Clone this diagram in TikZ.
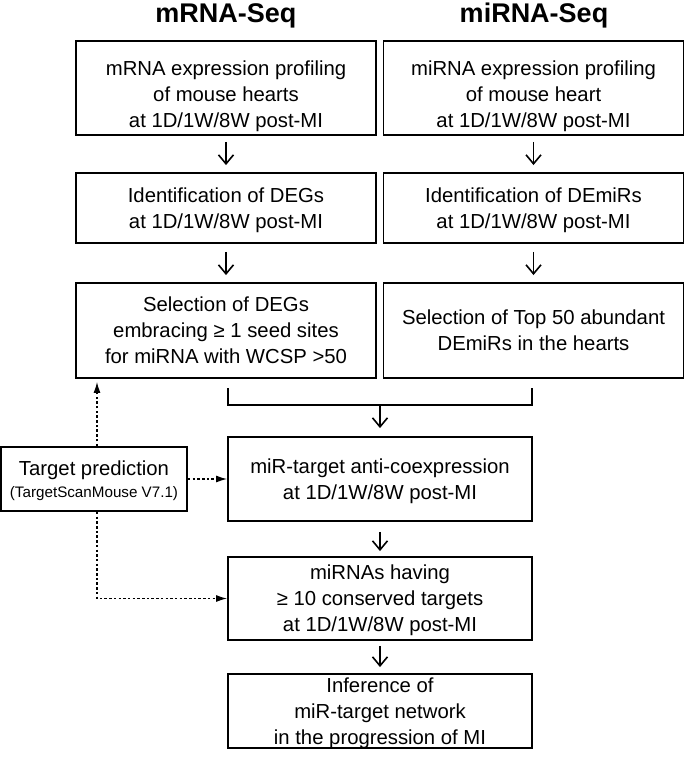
\documentclass[tikz,border=0pt]{standalone}
\usepackage{fontspec}
\setmainfont{Liberation Sans}
\usetikzlibrary{arrows.meta}

\newlength{\du}
\setlength{\du}{1pt}

\tikzset{
  flowbox/.style={draw, line width=1.9\du, inner sep=0pt, align=center, text depth=0pt,
    font=\fontsize{20.3}{26}\selectfont},
  colbox/.style={flowbox, minimum width=300\du},
  midbox/.style={flowbox, minimum width=304\du},
  seqhead/.style={anchor=base, inner sep=0pt, font=\fontsize{27}{32}\selectfont\bfseries},
  flowarrow/.style={line width=1.6\du, -{Straight Barb[length=9pt,width=15pt]}},
  predarrow/.style={line width=1.2\du, dash pattern=on 2.5\du off 2.2\du,
    -{Latex[length=11pt,width=7pt]}},
  bracketline/.style={line width=1.6\du},
}

\begin{document}
\begin{tikzpicture}[x=1\du, y=-1\du]
\useasboundingbox (0,0) rectangle (685,758);
% headers
\node[seqhead] (mrnahead) at (226,22) {mRNA-Seq};
\node[seqhead] (mirnahead) at (534,22) {miRNA-Seq};
% left column
\node[colbox, minimum height=94\du] (mrnaprof) at (226,88) {\rule{0pt}{27pt}mRNA expression profiling\\of mouse hearts\\at 1D/1W/8W post-MI};
\node[colbox, minimum height=70\du] (degid) at (226,208) {Identification of DEGs\\at 1D/1W/8W post-MI};
\node[colbox, minimum height=95\du] (degsel) at (226,330.5) {Selection of DEGs\\embracing ≥ 1 seed sites\\for miRNA with WCSP >50};
% right column
\node[colbox, minimum height=94\du] (mirnaprof) at (533.5,88) {\rule{0pt}{27pt}miRNA expression profiling\\of mouse heart\\at 1D/1W/8W post-MI};
\node[colbox, minimum height=70\du] (demirid) at (533.5,208) {Identification of DEmiRs\\at 1D/1W/8W post-MI};
\node[colbox, minimum height=95\du] (demirsel) at (533.5,330.5) {Selection of Top 50 abundant\\DEmiRs in the hearts};
% middle column
\node[midbox, minimum height=84\du] (anticoexp) at (380,479) {miR-target anti-coexpression\\at 1D/1W/8W post-MI};
\node[midbox, minimum height=83\du] (conserved) at (380,598.5) {miRNAs having\\≥ 10 conserved targets\\at 1D/1W/8W post-MI};
\node[midbox, minimum height=74\du] (network) at (380,711) {Inference of\\miR-target network\\in the progression of MI};
% target prediction
\node[flowbox, minimum width=186\du, minimum height=64\du] (targetpred) at (94,479) {Target prediction\\[-4\du]{\fontsize{15.2}{18}\selectfont (TargetScanMouse V7.1)}};

% main flow
\draw[flowarrow, shorten <=6pt, shorten >=7pt] (mrnaprof) -- (degid);
\draw[flowarrow, shorten <=6pt, shorten >=7pt] (mirnaprof) -- (demirid);
\draw[flowarrow, shorten <=8pt, shorten >=7pt] (degid) -- (degsel);
\draw[flowarrow, shorten <=8pt, shorten >=7pt] (demirid) -- (demirsel);
\coordinate (bracketL) at (228,388);
\coordinate (bracketR) at (532,388);
\coordinate (bracketmid) at (380,405);
\draw[bracketline] (bracketL) |- (bracketmid) -| (bracketR);
\draw[flowarrow, shorten >=8pt] (bracketmid) -- (anticoexp);
\draw[flowarrow, shorten <=10pt, shorten >=5pt] (anticoexp) -- (conserved);
\draw[flowarrow, shorten <=5pt, shorten >=6pt] (conserved) -- (network);

% predictions
\draw[predarrow, shorten >=3pt] ([xshift=3pt]targetpred.north) -- ([xshift=3pt]targetpred.north |- degsel.south);
\draw[predarrow] (targetpred) -- (anticoexp);
\draw[predarrow] ([xshift=3pt]targetpred.south) |- (conserved.west);
\end{tikzpicture}
\end{document}
